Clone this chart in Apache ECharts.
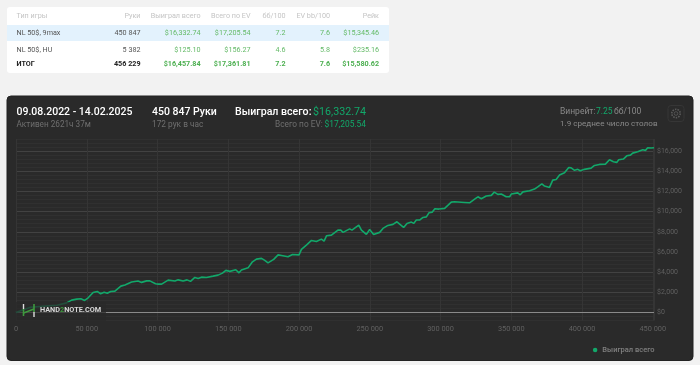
<!DOCTYPE html>
<html><head><meta charset="utf-8">
<style>html,body{margin:0;padding:0;background:#f2f2f2}#c{width:700px;height:365px}</style>
<script src="https://cdn.jsdelivr.net/npm/echarts@6/dist/echarts.min.js"></script>
</head><body><div id="c"></div>
<script>
const tableHeader = ['Тип игры','Руки','Выиграл всего','Всего по EV','бб/100','EV bb/100','Рейк'];
const row1 = ['NL 50$, 9max','450 847','$16,332.74','$17,205.54','7.2','7.6','$15,345.46'];
const row2 = ['NL 50$, HU','5 382','$125.10','$156.27','4.6','5.8','$235.16'];
const row3 = ['ИТОГ','456 229','$16,457.84','$17,361.81','7.2','7.6','$15,580.62'];
const hands = [0,2800,9900,19100,28900,35800,39300,42900,45900,48500,51000,54500,57400,59800,62300,64500,66900,69900,74100,77000,81700,86300,88700,92300,94600,98600,100500,102900,107500,112300,114600,118100,120900,123300,126400,128700,131100,134600,139300,142800,145900,148300,151100,155300,157600,159300,164000,167100,169900,173500,175800,178100,182100,185200,187600,192200,195400,200000,201700,205200,208800,212300,215800,217700,219400,222900,227500,229500,231100,235800,237400,242200,244100,247600,249900,252700,257000,259300,262800,266400,269200,273900,276300,279400,281000,282900,285200,287600,290000,291800,294200,296000,298900,302900,307600,309900,317000,320500,324100,326400,328800,332300,335900,338000,340500,342900,346400,348800,350000,354600,356300,358200,359400,362900,366400,368700,371600,373500,377000,379300,381700,384100,387600,390600,392300,394700,397000,398700,401700,402900,406400,408800,412300,413500,416500,419400,422200,424500,425900,429200,431600,434200,435800,439300,442900,444800,446400,448800,450847];
const winnings = [0,130,500,620,720,950,1220,1320,1350,1190,1450,1980,2080,1850,2010,1910,2080,2110,2610,2720,3010,3110,2980,3130,3130,2840,2810,2810,3200,3110,3230,3110,3230,3080,3470,3370,3500,3470,3600,3700,3900,4170,4070,4230,3930,4200,4420,5020,5290,5360,5160,4920,5260,5710,5650,5520,5750,5710,6250,6680,7140,7040,7270,7070,7600,7670,8160,8160,7940,8290,8160,8660,8160,7740,8230,7740,7940,8330,8630,8730,8990,8430,8830,8960,8830,9160,9160,9420,9480,9880,9950,10280,10250,10320,10940,10970,10910,10870,11240,11470,11270,11540,11610,11930,11710,11740,11470,11470,11740,11860,11670,11960,11860,12060,12230,12460,12760,12530,12400,13120,13190,13620,13850,14380,14340,14090,14190,14050,14190,14380,14310,14580,14680,14780,14710,15140,14940,14880,15140,15210,15530,15600,15800,15930,16130,16070,16330,16300,16332];
const seriesName = 'Выиграл всего';

const FONT = 'Roboto, sans-serif';
const GREEN = '#12a86a';
const fmtX = v => v % 50000 ? '' : String(v).replace(/\B(?=(\d{3})+$)/g, ' ');
const fmtY = v => v % 2000 ? '' : '$' + v.toLocaleString('en-US');

const colRight = [0,140.5,200.5,250.5,285.5,330,379];
const g = [];
function txt(x, y, parts, align, size, fill, weight) {
  g.push({type:'text', x, y, z:20, silent:true, style:{
    text:parts, x:0, y:0, align:align, verticalAlign:'middle', font:(weight||'normal')+' '+size+'px '+FONT, fill}});
}
function rect(x,y,w,h,fill,r,z,stroke){
  g.push({type:'rect', z:z||0, silent:true, shape:{x,y,width:w,height:h,r:r||0}, style:{fill, stroke:stroke||null}});
}
// table card
rect(7,7,382,66,'#ffffff',3,1);
rect(7,25,382,16,'#e3f2fd',0,2);
function row(cells,y,color,numColor,weight){
  cells.forEach((c,i)=>{
    if(i===0) txt(16.5,y,c,'left',7.2,color,weight);
    else txt(colRight[i],y,c,'right',7.2,i===1?color:numColor,weight);
  });
}
row(tableHeader,16,'#c4c4c4','#c4c4c4');
row(row1,33.5,'#555555','#66bb6a');
row(row2,50,'#555555','#66bb6a');
row(row3,64,'#222222','#4caf50','bold');
// dark card
rect(7,96,686,264.5,'#2a2a2a',4,0,'#222222');
// header
txt(16.5,112,'09.08.2022 - 14.02.2025','left',10.5,'#ffffff','500');
txt(16.5,125,'Активен 2621ч 37м','left',8.2,'#6f6f6f');
txt(152,112,'450 847 Руки','left',10.5,'#ffffff','500');
txt(152,125,'172 рук в час','left',8.3,'#6f6f6f');
txt(235,112,'Выиграл всего:','left',10.6,'#ffffff','500');
txt(366,112,'$16,332.74','right',10.7,GREEN);
txt(366,125,'$17,205.54','right',8.4,GREEN);
txt(322.7,125,'Всего по EV:','right',8.3,'#6f6f6f');
txt(560,112,'Винрейт:','left',8.5,'#8a8a8a');
txt(596,112,'7.25','left',8.5,GREEN);
txt(614,112,'бб/100','left',8.5,'#8a8a8a');
txt(560,124,'1.9 среднее число столов','left',8.1,'#8a8a8a');
// settings button
rect(668,105.5,16,16,'#2a2a2a',3,5,'#363636');
g.push({type:'circle',z:6,silent:true,shape:{cx:676,cy:113.5,r:4.2},style:{fill:'none',stroke:'#5a5a5a',lineWidth:1.6,lineDash:[1.5,1.1]}});
g.push({type:'circle',z:6,silent:true,shape:{cx:676,cy:113.5,r:1.8},style:{fill:'none',stroke:'#5a5a5a',lineWidth:.8}});
// logo
rect(16,302,90,19,'rgba(42,42,42,0.72)',0,10);
const seg=(x1,y1,x2,y2,c,w)=>g.push({type:'line',z:12,silent:true,shape:{x1,y1,x2,y2},style:{stroke:c,lineWidth:w}});
seg(23.5,309,23.5,316,'#3f9a3f',1.6);
seg(34,304,34,312,'#3f9a3f',1.6);
seg(23.5,313,34,309,'#3f9a3f',1.6);
seg(23.5,304,23.5,309,'#dddddd',1.4);
seg(34,312,34,317,'#dddddd',1.4);
g.push({type:'text',x:40,y:310.5,z:20,silent:true,style:{
  text:'{a|HAND}{b|2}{a|NOTE.COM}',x:0,y:0,verticalAlign:'middle',
  rich:{a:{font:'bold 7.3px '+FONT,fill:'#d8d8d8'},b:{font:'bold 7.3px '+FONT,fill:'#3f9a3f'}}}});

const chart = echarts.init(document.getElementById('c'),null,{renderer:'canvas'});
chart.setOption({
  animation:false,
  backgroundColor:'#f2f2f2',
  grid:{left:16,top:139,width:638,height:181.5,containLabel:false},
  legend:{z:8,data:[{name:seriesName,icon:'circle'}],right:40.5,top:341,itemWidth:4.5,itemHeight:4.5,itemGap:3,
    selectedMode:false,textStyle:{color:'#808080',fontSize:7.5,fontWeight:500,fontFamily:FONT}},
  xAxis:{z:3,type:'value',min:0,max:450847,interval:50000,
    axisLine:{show:false},axisTick:{show:false},
    axisLabel:{formatter:fmtX,color:'#606060',fontSize:7.4,fontFamily:FONT,margin:5,hideOverlap:false,showMaxLabel:true},
    splitLine:{show:true,lineStyle:{color:'#353535',width:1}}},
  yAxis:{z:3,type:'value',position:'right',min:-800,max:17200,interval:400,
    axisLine:{show:false},axisTick:{show:false},
    axisLabel:{formatter:fmtY,color:'#606060',fontSize:7,fontFamily:FONT,margin:3},
    splitLine:{show:true,lineStyle:{width:1,color:['#303030','#303030','#424242','#303030','#303030']}}},
  series:[{name:seriesName,type:'line',symbol:'none',z:5,
    data:hands.map((h,i)=>[h,winnings[i]]),
    itemStyle:{color:GREEN},
    lineStyle:{color:GREEN,width:1.6},
    markLine:{silent:true,symbol:'none',label:{show:false},z:4,
      lineStyle:{color:'#8a8a8a',width:1.2,type:'solid'},data:[{yAxis:0}]}}],
  graphic:{elements:g}
});
</script></body></html>
